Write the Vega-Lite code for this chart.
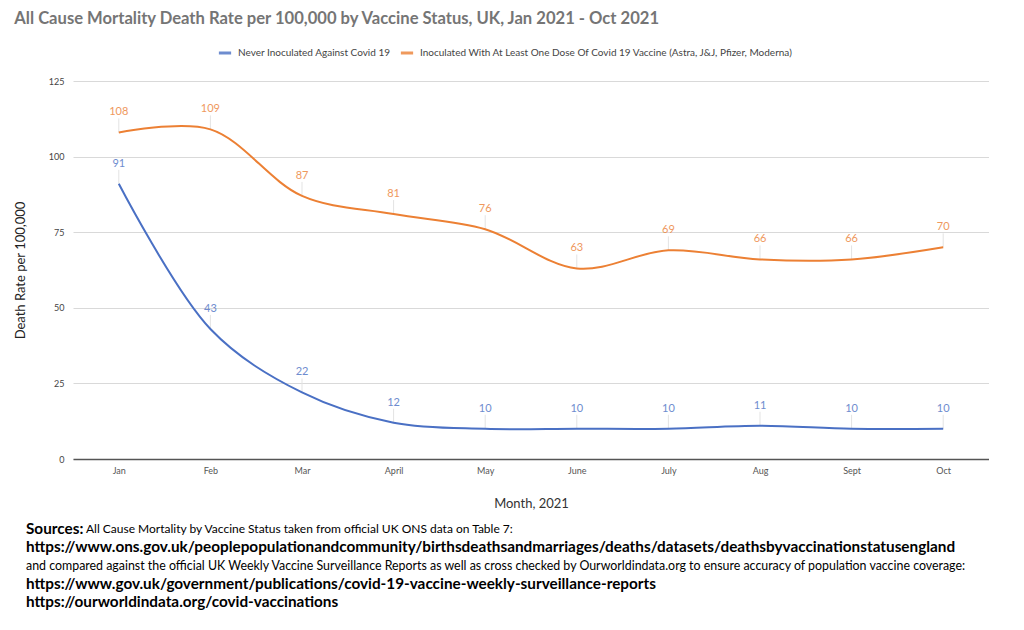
{
  "$schema": "https://vega.github.io/schema/vega-lite/v6.json",
  "background": "white",
  "padding": {"left": 14, "top": 10, "right": 0, "bottom": 0},
  "title": {
    "text": "All Cause Mortality Death Rate per 100,000 by Vaccine Status, UK, Jan 2021  - Oct 2021",
    "anchor": "start",
    "frame": "bounds",
    "font": "Lato",
    "fontSize": 16.6,
    "fontWeight": "bold",
    "color": "#757575",
    "offset": 17.5
  },
  "datasets": {
    "rates": [
      {"month": "Jan", "series": "Never Inoculated Against Covid 19", "rate": 91},
      {"month": "Feb", "series": "Never Inoculated Against Covid 19", "rate": 43},
      {"month": "Mar", "series": "Never Inoculated Against Covid 19", "rate": 22},
      {"month": "April", "series": "Never Inoculated Against Covid 19", "rate": 12},
      {"month": "May", "series": "Never Inoculated Against Covid 19", "rate": 10},
      {"month": "June", "series": "Never Inoculated Against Covid 19", "rate": 10},
      {"month": "July", "series": "Never Inoculated Against Covid 19", "rate": 10},
      {"month": "Aug", "series": "Never Inoculated Against Covid 19", "rate": 11},
      {"month": "Sept", "series": "Never Inoculated Against Covid 19", "rate": 10},
      {"month": "Oct", "series": "Never Inoculated Against Covid 19", "rate": 10},
      {"month": "Jan", "series": "Inoculated With At Least One Dose Of Covid 19 Vaccine (Astra, J&J, Pfizer, Moderna)", "rate": 108},
      {"month": "Feb", "series": "Inoculated With At Least One Dose Of Covid 19 Vaccine (Astra, J&J, Pfizer, Moderna)", "rate": 109},
      {"month": "Mar", "series": "Inoculated With At Least One Dose Of Covid 19 Vaccine (Astra, J&J, Pfizer, Moderna)", "rate": 87},
      {"month": "April", "series": "Inoculated With At Least One Dose Of Covid 19 Vaccine (Astra, J&J, Pfizer, Moderna)", "rate": 81},
      {"month": "May", "series": "Inoculated With At Least One Dose Of Covid 19 Vaccine (Astra, J&J, Pfizer, Moderna)", "rate": 76},
      {"month": "June", "series": "Inoculated With At Least One Dose Of Covid 19 Vaccine (Astra, J&J, Pfizer, Moderna)", "rate": 63},
      {"month": "July", "series": "Inoculated With At Least One Dose Of Covid 19 Vaccine (Astra, J&J, Pfizer, Moderna)", "rate": 69},
      {"month": "Aug", "series": "Inoculated With At Least One Dose Of Covid 19 Vaccine (Astra, J&J, Pfizer, Moderna)", "rate": 66},
      {"month": "Sept", "series": "Inoculated With At Least One Dose Of Covid 19 Vaccine (Astra, J&J, Pfizer, Moderna)", "rate": 66},
      {"month": "Oct", "series": "Inoculated With At Least One Dose Of Covid 19 Vaccine (Astra, J&J, Pfizer, Moderna)", "rate": 70}
    ],
    "sources": [
      {"line": 1, "role": "heading", "text": "Sources:"},
      {"line": 1, "role": "lead", "text": "All Cause Mortality by Vaccine Status taken from official UK ONS data on Table 7:"},
      {"line": 2, "role": "link", "text": "https://www.ons.gov.uk/peoplepopulationandcommunity/birthsdeathsandmarriages/deaths/datasets/deathsbyvaccinationstatusengland"},
      {"line": 3, "role": "note", "text": "and compared against the official UK Weekly Vaccine Surveillance Reports as well as cross checked by Ourworldindata.org to ensure accuracy of population vaccine coverage:"},
      {"line": 4, "role": "link", "text": "https://www.gov.uk/government/publications/covid-19-vaccine-weekly-surveillance-reports"},
      {"line": 5, "role": "link", "text": "https://ourworldindata.org/covid-vaccinations"}
    ]
  },
  "spacing": 10,
  "vconcat": [
    {
      "width": 916,
      "height": 378,
      "data": {"name": "rates"},
      "encoding": {
        "x": {
          "field": "month",
          "type": "ordinal",
          "sort": ["Jan", "Feb", "Mar", "April", "May", "June", "July", "Aug", "Sept", "Oct"],
          "scale": {"type": "point", "padding": 0.5},
          "axis": {
            "title": "Month, 2021",
            "labelAngle": 0,
            "labelFont": "Lato",
            "labelFontSize": 9,
            "labelColor": "#555555",
            "labelPadding": 7,
            "ticks": false,
            "grid": false,
            "domain": true,
            "domainColor": "#555555",
            "domainWidth": 1.3,
            "titleFont": "Lato",
            "titleFontSize": 13,
            "titleFontWeight": "normal",
            "titleColor": "#333333",
            "titlePadding": 22
          }
        },
        "y": {
          "field": "rate",
          "type": "quantitative",
          "scale": {"domain": [0, 125]},
          "axis": {
            "title": "Death Rate per 100,000",
            "values": [0, 25, 50, 75, 100, 125],
            "labelFont": "Lato",
            "labelFontSize": 9,
            "labelColor": "#444444",
            "labelPadding": 9,
            "ticks": false,
            "domain": false,
            "grid": true,
            "gridColor": "#d9d9d9",
            "titleFont": "Lato",
            "titleFontSize": 13,
            "titleFontWeight": "normal",
            "titleColor": "#222222",
            "titlePadding": 21
          }
        },
        "color": {
          "field": "series",
          "type": "nominal",
          "scale": {
            "domain": ["Never Inoculated Against Covid 19", "Inoculated With At Least One Dose Of Covid 19 Vaccine (Astra, J&J, Pfizer, Moderna)"],
            "range": ["#4a70c4", "#ec8034"]
          },
          "legend": {
            "title": null,
            "orient": "none",
            "legendX": 144,
            "legendY": -36,
            "direction": "horizontal",
            "symbolType": "stroke",
            "symbolSize": 150,
            "symbolStrokeWidth": 3,
            "labelFont": "Lato",
            "labelFontSize": 10,
            "labelColor": "#444444",
            "labelLimit": 600,
            "labelOffset": 5,
            "columnPadding": 3
          }
        }
      },
      "layer": [
        {
          "mark": {"type": "rule", "y2Offset": -14, "strokeWidth": 1},
          "encoding": {"y2": {"field": "rate"}, "color": {"value": "#e3e3e3"}}
        },
        {
          "mark": {"type": "line", "interpolate": "catmull-rom", "strokeWidth": 2}
        },
        {
          "mark": {"type": "text", "dy": -20, "font": "Lato", "fontSize": 11, "opacity": 0.8},
          "encoding": {"text": {"field": "rate"}}
        }
      ]
    },
    {
      "width": 916,
      "height": 91,
      "data": {"name": "sources"},
      "encoding": {
        "y": {"field": "line", "type": "ordinal", "axis": null},
        "x": {"datum": 0, "type": "quantitative", "scale": {"domain": [0, 1]}, "axis": null},
        "text": {"field": "text"}
      },
      "layer": [
        {
          "transform": [{"filter": "datum.role == 'heading' || datum.role == 'link'"}],
          "mark": {"type": "text", "align": "left", "baseline": "middle", "font": "Lato", "fontWeight": "bold", "fontSize": 15.3, "dx": -47, "color": "#000000"}
        },
        {
          "transform": [{"filter": "datum.role == 'note'"}],
          "mark": {"type": "text", "align": "left", "baseline": "middle", "font": "Lato", "fontSize": 12.4, "dx": -47, "color": "#000000"}
        },
        {
          "transform": [{"filter": "datum.role == 'lead'"}],
          "mark": {"type": "text", "align": "left", "baseline": "middle", "font": "Lato", "fontSize": 12, "dx": 13, "color": "#000000"}
        }
      ]
    }
  ],
  "config": {"view": {"stroke": null}}
}
